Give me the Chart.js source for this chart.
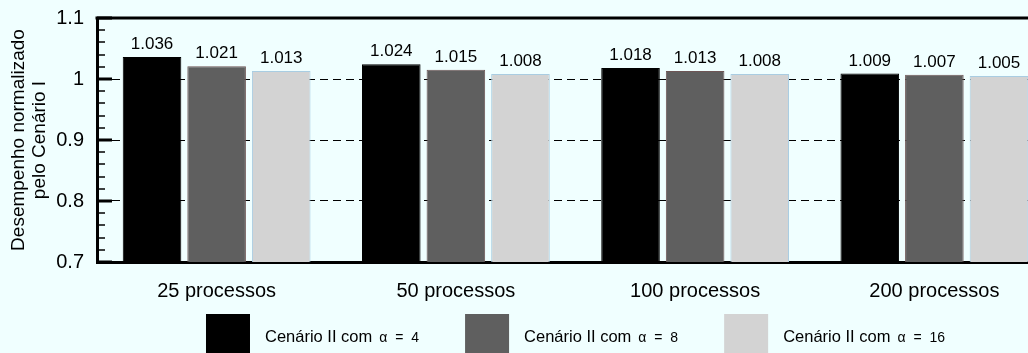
<!DOCTYPE html>
<html>
<head>
<meta charset="utf-8">
<script src="https://cdn.jsdelivr.net/npm/chart.js@4/dist/chart.umd.min.js"></script>
<style>
  html, body { margin: 0; padding: 0; background: #F0FFFF; overflow: hidden; }
  #wrap { width: 1028px; height: 353px; overflow: hidden; position: relative; }
  canvas { display: block; }
</style>
</head>
<body>
<div id="wrap"><canvas id="c" width="1070" height="353"></canvas></div>
<script>
// Categories and series
const categories = ['25 processos', '50 processos', '100 processos', '200 processos'];
const alpha4  = [1.036, 1.024, 1.018, 1.009];
const alpha8  = [1.021, 1.015, 1.013, 1.007];
const alpha16 = [1.013, 1.008, 1.008, 1.005];
const alphaValues = [4, 8, 16];
const seriesPrefix = 'Cenário II com';
const yTicks = [0.7, 0.8, 0.9, 1, 1.1];
const yMinorStep = 0.02;
const yTitle = ['Desempenho normalizado', 'pelo Cenário I'];

const FONT = '"Liberation Sans", Arial, Helvetica, sans-serif';
const BG = '#F0FFFF';

const fills   = ['#000000', '#5F5F5F', '#D3D3D3'];
const borders = ['#000000', '#6E5656', '#A9CDE2'];

// Background fill
const bgPlugin = {
  id: 'bg',
  beforeDraw(chart) {
    const ctx = chart.ctx;
    ctx.save();
    ctx.fillStyle = BG;
    ctx.fillRect(0, 0, chart.width, chart.height);
    ctx.restore();
  }
};

// Top frame line and inward major/minor ticks on the y axis
const axisDecor = {
  id: 'axisDecor',
  afterDatasetsDraw(chart) {
    const { ctx, chartArea: a, scales: { y } } = chart;
    ctx.save();
    ctx.strokeStyle = '#000';
    ctx.lineWidth = 3;
    ctx.beginPath();
    ctx.moveTo(a.left - 1.5, a.top);
    ctx.lineTo(a.right, a.top);
    ctx.stroke();

    const n = Math.round((y.max - y.min) / yMinorStep);
    for (let i = 0; i <= n; i++) {
      const v = y.min + i * yMinorStep;
      const py = Math.round(y.getPixelForValue(v));
      const major = yTicks.some(t => Math.abs(t - v) < 1e-6);
      ctx.lineWidth = major ? 3 : 1.5;
      ctx.beginPath();
      ctx.moveTo(a.left, py);
      ctx.lineTo(a.left + (major ? 15 : 8), py);
      ctx.stroke();
    }
    ctx.restore();
  }
};

// Value labels above the bars
const valueLabels = {
  id: 'valueLabels',
  afterDatasetsDraw(chart) {
    const ctx = chart.ctx;
    ctx.save();
    ctx.fillStyle = '#000';
    ctx.font = '17px ' + FONT;
    ctx.textAlign = 'center';
    ctx.textBaseline = 'alphabetic';
    chart.data.datasets.forEach((ds, di) => {
      const meta = chart.getDatasetMeta(di);
      meta.data.forEach((el, i) => {
        ctx.fillText(ds.data[i].toFixed(3), el.x, el.y - 8);
      });
    });
    ctx.restore();
  }
};

// Legend row below the axis labels
const legendRow = {
  id: 'legendRow',
  afterDraw(chart) {
    const { ctx, chartArea: a } = chart;
    const boxW = 44, boxTop = 314, boxH = 40, textGap = 15, itemGap = 46;
    const mainFont = '16.5px ' + FONT;
    const subFont = '14px ' + FONT;
    const textY = 337;
    ctx.save();
    const items = chart.data.datasets.map((ds, i) => {
      ctx.font = mainFont;
      const wMain = ctx.measureText(seriesPrefix).width;
      ctx.font = subFont;
      const wVal = ctx.measureText(String(alphaValues[i])).width;
      const w = wMain + 7 + 32 + wVal;
      return { ds, i, wMain, w };
    });
    const total = items.reduce((s, it) => s + boxW + textGap + it.w, 0) + itemGap * (items.length - 1);
    let x = (a.left + a.right) / 2 - total / 2;
    ctx.textBaseline = 'middle';
    ctx.textAlign = 'left';
    items.forEach(it => {
      ctx.fillStyle = it.ds.backgroundColor;
      ctx.fillRect(x, boxTop, boxW, boxH);
      let tx = x + boxW + textGap;
      ctx.fillStyle = '#000';
      ctx.font = mainFont;
      ctx.fillText(seriesPrefix, tx, textY);
      tx += it.wMain + 7;
      ctx.font = subFont;
      ctx.fillText('\u03B1', tx, textY + 1);
      ctx.fillText('=', tx + 16, textY + 1);
      ctx.fillText(String(alphaValues[it.i]), tx + 32, textY + 1);
      x += boxW + textGap + it.w + itemGap;
    });
    ctx.restore();
  }
};

const datasets = [alpha4, alpha8, alpha16].map((vals, i) => ({
  label: seriesPrefix + ' \u03B1 = ' + alphaValues[i],
  data: vals,
  backgroundColor: fills[i],
  borderColor: borders[i],
  borderWidth: 1,
  categoryPercentage: 0.81,
  barPercentage: 0.907
}));

const isFrameTick = v => Math.abs(v - yTicks[0]) < 1e-6 || Math.abs(v - yTicks[yTicks.length - 1]) < 1e-6;

new Chart(document.getElementById('c'), {
  type: 'bar',
  data: { labels: categories, datasets },
  options: {
    responsive: false,
    animation: false,
    devicePixelRatio: 1,
    layout: { padding: { left: 0, top: 18, right: 16, bottom: 0 } },
    plugins: { legend: { display: false }, tooltip: { enabled: false } },
    scales: {
      x: {
        grid: { display: false, drawTicks: false },
        border: { display: true, color: '#000', width: 3 },
        ticks: { color: '#000', font: { family: FONT, size: 20 }, padding: 17, maxRotation: 0 },
        afterFit(scale) {
          scale.height = 91;
          scale.paddingLeft = 0;
          scale.paddingRight = 0;
        }
      },
      y: {
        min: yTicks[0],
        max: yTicks[yTicks.length - 1],
        afterBuildTicks(scale) { scale.ticks = yTicks.map(v => ({ value: v })); },
        grid: {
          drawTicks: false,
          lineWidth: 1,
          color: ctx => (ctx.tick && isFrameTick(ctx.tick.value)) ? 'rgba(0,0,0,0)' : '#000'
        },
        border: { display: true, color: '#000', width: 3, dash: [8, 5] },
        ticks: {
          color: '#000',
          font: { family: FONT, size: 20 },
          padding: 13,
          callback: v => String(Number(v.toFixed(2)))
        },
        title: {
          display: true,
          text: yTitle,
          color: '#000',
          font: { family: FONT, size: 19, lineHeight: 1.1 },
          padding: { top: 8.5, bottom: 0 }
        },
        afterFit(scale) {
          scale.width = 97;
          scale.paddingTop = 0;
          scale.paddingBottom = 0;
        }
      }
    }
  },
  plugins: [bgPlugin, axisDecor, valueLabels, legendRow]
});
</script>
</body>
</html>
